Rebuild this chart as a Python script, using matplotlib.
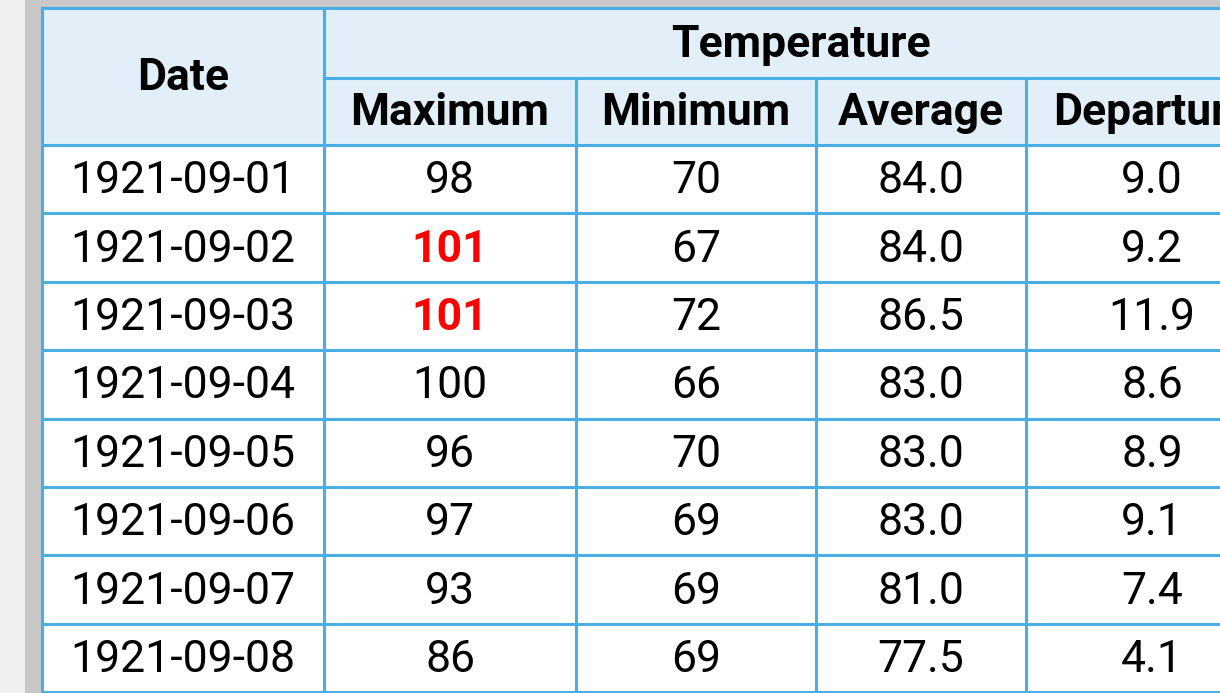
import matplotlib.pyplot as plt
from matplotlib.patches import Rectangle

dates = ["1921-09-01", "1921-09-02", "1921-09-03", "1921-09-04",
         "1921-09-05", "1921-09-06", "1921-09-07", "1921-09-08"]
maximum = [98, 101, 101, 100, 96, 97, 93, 86]
minimum = [70, 67, 72, 66, 70, 69, 69, 69]
average = [84.0, 84.0, 86.5, 83.0, 83.0, 83.0, 81.0, 77.5]
departure = [9.0, 9.2, 11.9, 8.6, 8.9, 9.1, 7.4, 4.1]
sub_headers = ["Maximum", "Minimum", "Average", "Departure"]
record_max = 101

# layout in pixels
col_x = [42, 324, 576, 816, 1026, 1278]
top, mid, head_bot = 8, 77.5, 145
row_h = 68.4
border = "#4aaee6"
head_bg = "#e2eff9"

fig = plt.figure(figsize=(12.2, 6.93), dpi=100)
fig.patch.set_facecolor("#f0f0f0")
ax = fig.add_axes([0, 0, 1, 1])
ax.set_xlim(0, 1220)
ax.set_ylim(693, 0)
ax.axis("off")

ax.add_patch(Rectangle((25, 0), 1300, 700, color="#c8c8c8", lw=0))
ax.add_patch(Rectangle((col_x[0], top), col_x[-1] - col_x[0], 700, color="white", lw=0))
ax.add_patch(Rectangle((col_x[0], top), col_x[-1] - col_x[0], head_bot - top, color=head_bg, lw=0))

font = "Roboto"
n = len(dates)
bottom = head_bot + row_h * n
dy = -2.5  # nudge text up

# grid lines
lw = 2.2
ax.plot([col_x[0], col_x[-1]], [top, top], color=border, lw=lw)
ax.plot([col_x[1], col_x[-1]], [mid, mid], color=border, lw=lw)
for i in range(n + 1):
   y = head_bot + row_h * i
   ax.plot([col_x[0], col_x[-1]], [y, y], color=border, lw=lw)
ax.plot([col_x[0], col_x[0]], [top, bottom], color=border, lw=lw)
ax.plot([col_x[1], col_x[1]], [top, bottom], color=border, lw=lw)
for x in col_x[2:]:
   ax.plot([x, x], [mid, bottom], color=border, lw=lw)

# headers
hs = 32
ax.text((col_x[0] + col_x[1]) / 2, (top + head_bot) / 2 + dy, "Date", family=font,
        weight="bold", fontsize=hs, ha="center", va="center_baseline")
ax.text((col_x[1] + col_x[-1]) / 2, (top + mid) / 2 + dy, "Temperature", family=font,
        weight="bold", fontsize=hs, ha="center", va="center_baseline")
for j, h in enumerate(sub_headers):
   ax.text((col_x[j + 1] + col_x[j + 2]) / 2, (mid + head_bot) / 2 + dy, h, family=font,
           weight="bold", fontsize=hs, ha="center", va="center_baseline")

# rows
for i in range(n):
   yc = head_bot + row_h * (i + 0.5) + dy
   cells = [dates[i], str(maximum[i]), str(minimum[i]),
            f"{average[i]:.1f}", f"{departure[i]:.1f}"]
   for j, c in enumerate(cells):
      xc = (col_x[j] + col_x[j + 1]) / 2
      if j == 1 and maximum[i] == record_max:
         ax.text(xc, yc, c, family=font, weight="bold", color="#ff0000",
                 fontsize=32, ha="center", va="center_baseline")
      else:
         ax.text(xc, yc, c, family=font, color="black",
                 fontsize=32, ha="center", va="center_baseline")

fig.savefig("out.png", dpi=100, facecolor=fig.get_facecolor())
